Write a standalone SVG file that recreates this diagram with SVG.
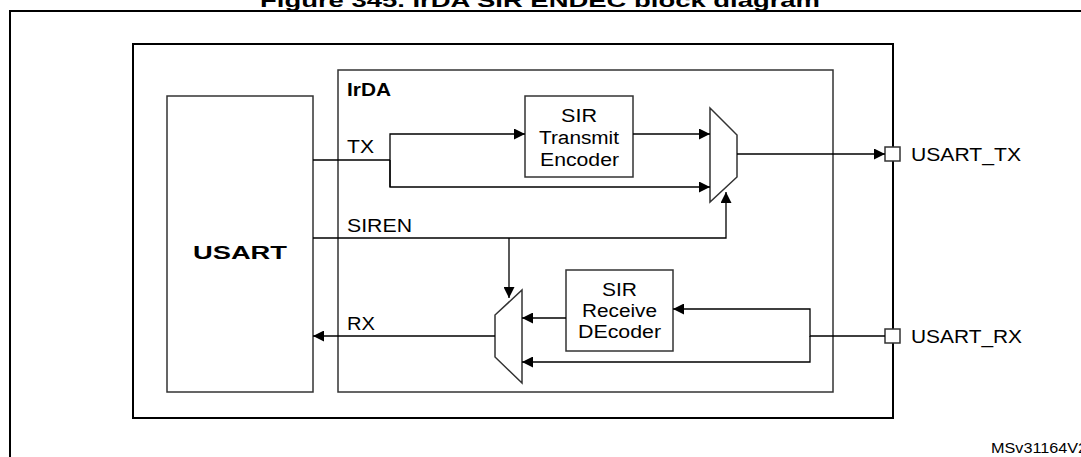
<svg xmlns="http://www.w3.org/2000/svg" width="1081" height="457" viewBox="0 0 1081 457">
<style>
text{font-family:"Liberation Sans",Arial,sans-serif;fill:#000}
.t{font-size:18px}
.b{font-weight:bold}
.box{fill:#fff;stroke:#333;stroke-width:1.5}
.w{fill:none;stroke:#000;stroke-width:1.3}
</style>
<defs><marker id="a" viewBox="0 0 10 10" refX="10" refY="5" markerWidth="11" markerHeight="11" markerUnits="userSpaceOnUse" orient="auto"><path d="M0,0L10,5L0,10z" fill="#000"/></marker></defs>
<rect width="1081" height="457" fill="#fff"/>
<text x="540" y="7" text-anchor="middle" class="b" font-size="19" textLength="560" lengthAdjust="spacingAndGlyphs">Figure 345. IrDA SIR ENDEC  block diagram</text>
<path d="M10,470V11H1090" fill="none" stroke="#000" stroke-width="2"/>
<g id="main"><rect x="133" y="44" width="760" height="374" fill="none" stroke="#000" stroke-width="2"/></g>
<g id="irda"><rect x="338" y="70" width="495" height="322" class="box" fill="none"/><text x="347" y="96" class="t b" font-size="17" textLength="44" lengthAdjust="spacingAndGlyphs">IrDA</text></g>
<g id="usart"><rect x="167" y="96" width="146" height="296" class="box"/><text x="193" y="259" class="t b" textLength="94" lengthAdjust="spacingAndGlyphs">USART</text></g>
<g id="enc"><rect x="525" y="96" width="108" height="81" class="box"/><text class="t"><tspan x="561" y="122" textLength="36" lengthAdjust="spacingAndGlyphs">SIR</tspan><tspan x="539" y="144" textLength="80" lengthAdjust="spacingAndGlyphs">Transmit</tspan><tspan x="540" y="166" textLength="79" lengthAdjust="spacingAndGlyphs">Encoder</tspan></text></g>
<g id="dec"><rect x="566" y="270" width="107" height="81" class="box"/><text class="t"><tspan x="602" y="296" textLength="35" lengthAdjust="spacingAndGlyphs">SIR</tspan><tspan x="582" y="317" textLength="75" lengthAdjust="spacingAndGlyphs">Receive</tspan><tspan x="578" y="338" textLength="83" lengthAdjust="spacingAndGlyphs">DEcoder</tspan></text></g>
<g id="txmux"><path d="M710,108L737,135V177L710,202Z" class="box"/></g>
<g id="rxmux"><path d="M522,290V383L495,357V315Z" class="box"/></g>
<g id="pintx"><rect x="885" y="147" width="15" height="14" class="box" stroke="#000"/><text x="911" y="161" class="t" textLength="110" lengthAdjust="spacingAndGlyphs">USART_TX</text></g>
<g id="pinrx"><rect x="885" y="329" width="15" height="14" class="box" stroke="#000"/><text x="911" y="343" class="t" textLength="111" lengthAdjust="spacingAndGlyphs">USART_RX</text></g>
<g id="connectors">
<path d="M313,160H390M390,187V134H525" class="w" marker-end="url(#a)"/>
<path d="M390,160V187H710" class="w" marker-end="url(#a)"/>
<path d="M633,134H710" class="w" marker-end="url(#a)"/>
<path d="M737,154H885" class="w" marker-end="url(#a)"/>
<path d="M313,238H726V192" class="w" marker-end="url(#a)"/>
<path d="M509,238V298" class="w" marker-end="url(#a)"/>
<path d="M885,336H810V309H673" class="w" marker-end="url(#a)"/>
<path d="M810,336V362H522" class="w" marker-end="url(#a)"/>
<path d="M566,318H522" class="w" marker-end="url(#a)"/>
<path d="M495,336H313" class="w" marker-end="url(#a)"/>
</g>
<text x="347" y="153" class="t" textLength="27" lengthAdjust="spacingAndGlyphs">TX</text>
<text x="347" y="232" class="t" textLength="65" lengthAdjust="spacingAndGlyphs">SIREN</text>
<text x="347" y="330" class="t" textLength="28" lengthAdjust="spacingAndGlyphs">RX</text>
<text x="991" y="453" font-size="14" textLength="96" lengthAdjust="spacingAndGlyphs">MSv31164V2</text>
</svg>
